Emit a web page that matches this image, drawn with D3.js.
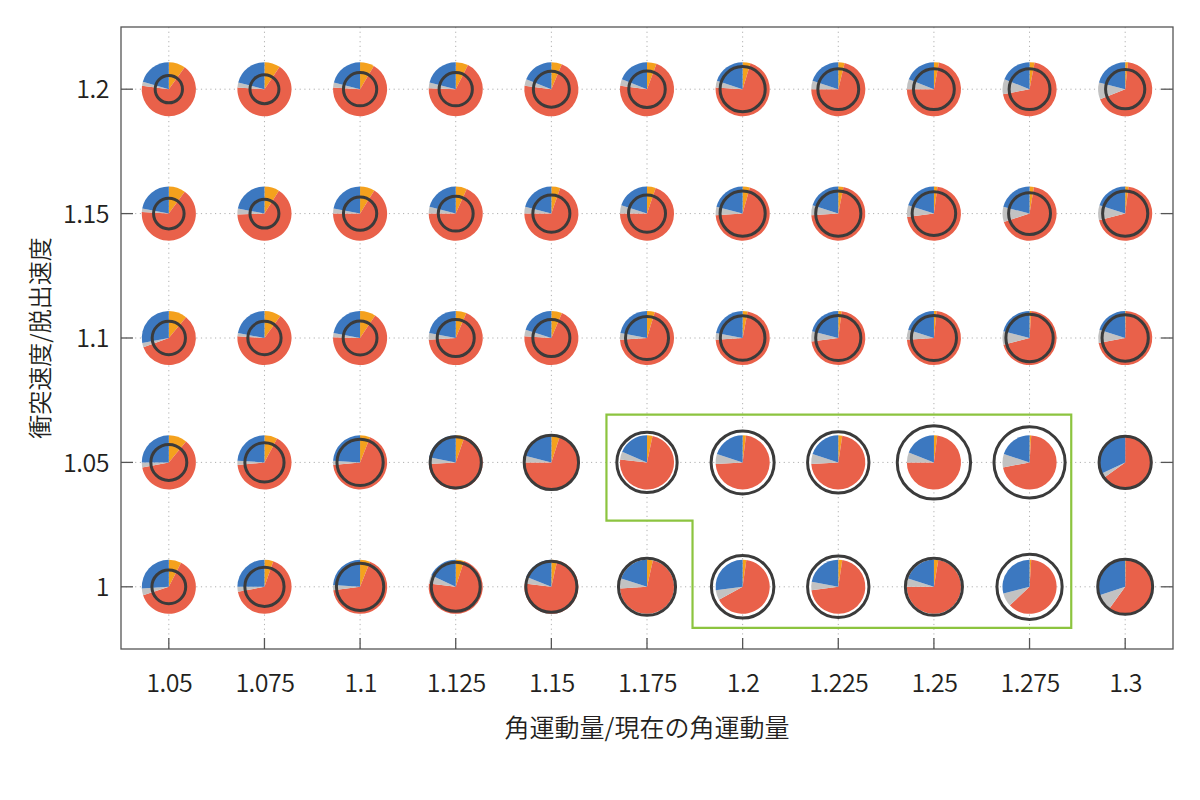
<!DOCTYPE html>
<html>
<head>
<meta charset="utf-8">
<script src="https://cdn.jsdelivr.net/npm/d3@7"></script>
<style>
  html, body { margin: 0; padding: 0; background: #fff; }
  svg { display: block; font-family: "Noto Sans CJK JP", "Noto Sans", sans-serif; }
</style>
</head>
<body>
<svg id="chart" width="1200" height="800"></svg>
<script>
// ---------- data ----------
const xValues = [1.05, 1.075, 1.1, 1.125, 1.15, 1.175, 1.2, 1.225, 1.25, 1.275, 1.3];
const yValues = [1.2, 1.15, 1.1, 1.05, 1];
const xTickLabels = ["1.05", "1.075", "1.1", "1.125", "1.15", "1.175", "1.2", "1.225", "1.25", "1.275", "1.3"];
const yTickLabels = ["1", "1.05", "1.1", "1.15", "1.2"];
const yTickValues = [1, 1.05, 1.1, 1.15, 1.2];

// slice shares (%) per row (rows follow yValues, columns follow xValues)
const orangeShare = [
  [10, 9.5, 8.5, 7.5, 6.3, 5.7, 4.7, 3.8, 3, 3, 1.7],
  [10, 9, 8.8, 6.7, 5.3, 5.2, 4.3, 3.1, 2.1, 2.6, 2],
  [11, 10, 9.4, 6.4, 6.4, 4.7, 3, 2, 1.6, 1, 0.5],
  [11, 7.7, 6, 5.3, 5, 3.3, 2, 2.4, 2, 1, 0],
  [7.5, 5.3, 6, 5, 3.5, 3.5, 2.2, 2.4, 2.6, 1, 0.5]
];
const redShare = [
  [67, 66.5, 67.5, 68, 70.7, 71.3, 71.3, 71.2, 72, 69, 67.3],
  [66, 65.5, 66.2, 68.3, 69.7, 69.8, 69.7, 70.9, 70.9, 67.4, 69],
  [58.5, 66, 66.1, 67.6, 69.6, 69.3, 71, 71, 72.4, 70, 71.5],
  [61, 65.8, 67.5, 68.7, 70, 73.4, 72, 71.6, 73, 71, 65],
  [62.5, 66.7, 67, 72, 73.5, 70.5, 64.8, 70.6, 72.4, 62, 59.5]
];
const grayShare = [
  [2.5, 3, 3, 3.5, 4, 4, 4, 5, 6, 9, 10],
  [2, 3.5, 3, 4, 4, 5, 5, 6, 7, 9, 9],
  [2.5, 2, 2.5, 4, 4, 4, 4, 6, 6, 8, 8],
  [3, 2.5, 2.5, 4, 4, 4.7, 6, 6, 6, 8, 3],
  [4, 3, 3, 5, 4, 6, 6, 5, 5, 8, 10]
];
const blueShare = [
  [20.5, 21, 21, 21, 19, 19, 20, 20, 19, 19, 21],
  [22, 22, 22, 21, 21, 20, 21, 20, 20, 21, 20],
  [28, 22, 22, 22, 20, 22, 22, 21, 20, 21, 20],
  [25, 24, 24, 22, 21, 18.6, 20, 20, 19, 20, 32],
  [26, 25, 24, 18, 19, 20, 27, 22, 20, 29, 30]
];
// ring size relative to the pie radius
const ringRatio = [
  [0.56, 0.59, 0.67, 0.67, 0.72, 0.73, 0.89, 0.81, 0.81, 0.81, 0.78],
  [0.62, 0.59, 0.67, 0.70, 0.74, 0.74, 0.89, 0.89, 0.86, 0.83, 0.89],
  [0.67, 0.67, 0.68, 0.74, 0.74, 0.85, 0.88, 0.89, 0.89, 0.93, 0.91],
  [0.72, 0.78, 0.91, 1.00, 1.06, 1.17, 1.22, 1.19, 1.41, 1.37, 1.02],
  [0.68, 0.78, 0.93, 0.96, 1.00, 1.11, 1.21, 1.19, 1.11, 1.26, 1.07]
];
// highlighted region outline (data coordinates)
const regionX = [1.1644, 1.2859, 1.2859, 1.1869, 1.1869, 1.1644];
const regionY = [1.0692, 1.0692, 0.9835, 0.9835, 1.0266, 1.0266];

const sliceNames = ["orange", "red", "gray", "blue"];
const sliceColors = { orange: "#f4a11d", red: "#e9614a", gray: "#c2c2c2", blue: "#3c78c0" };

const xTitle = "角運動量/現在の角運動量";
const yTitle = "衝突速度/脱出速度";

// ---------- layout ----------
const W = 1200, H = 800;
const margin = { top: 27, right: 27, bottom: 151, left: 121 };
const svg = d3.select("#chart");
const iw = W - margin.left - margin.right;
const ih = H - margin.top - margin.bottom;

const x = d3.scaleLinear().domain([1.0375, 1.3125]).range([margin.left, margin.left + iw]);
const y = d3.scaleLinear().domain([0.975, 1.225]).range([margin.top + ih, margin.top]);

const pieR = (x(1.075) - x(1.05)) * 0.283;
const ringScale = d3.scaleLinear().domain([0, 1]).range([0, pieR]);

// ---------- grid ----------
const grid = svg.append("g");
grid.selectAll("line.vx").data(xValues).join("line")
  .attr("x1", d => x(d)).attr("x2", d => x(d))
  .attr("y1", margin.top).attr("y2", margin.top + ih)
  .attr("stroke", "#b0b0b0").attr("stroke-width", 1).attr("stroke-dasharray", "1.2,3.5");
grid.selectAll("line.hy").data(yTickValues).join("line")
  .attr("y1", d => y(d)).attr("y2", d => y(d))
  .attr("x1", margin.left).attr("x2", margin.left + iw)
  .attr("stroke", "#b0b0b0").attr("stroke-width", 1).attr("stroke-dasharray", "1.2,3.5");

// ---------- pies ----------
const cells = [];
yValues.forEach((yv, ri) => {
  xValues.forEach((xv, ci) => {
    cells.push({
      xv, yv,
      shares: {
        orange: orangeShare[ri][ci], red: redShare[ri][ci],
        gray: grayShare[ri][ci], blue: blueShare[ri][ci]
      },
      ring: ringRatio[ri][ci]
    });
  });
});

const pie = d3.pie().sort(null).value(d => d.v);
const arc = d3.arc().innerRadius(0).outerRadius(pieR);

const cellG = svg.append("g").selectAll("g.cell").data(cells).join("g")
  .attr("transform", d => `translate(${x(d.xv)},${y(d.yv)})`);

cellG.selectAll("path").data(d => pie(sliceNames.map(n => ({ n, v: d.shares[n] })))).join("path")
  .attr("d", arc)
  .attr("fill", d => sliceColors[d.data.n]);

cellG.append("circle")
  .attr("r", d => ringScale(d.ring) - 1.5)
  .attr("fill", "none")
  .attr("stroke", "#3b3b3b")
  .attr("stroke-width", 3);

// ---------- highlighted region ----------
const regionPts = regionX.map((v, i) => [x(v), y(regionY[i])]);
svg.append("path")
  .attr("d", d3.line()(regionPts) + "Z")
  .attr("fill", "none").attr("stroke", "#8cc43f").attr("stroke-width", 2.2);

// ---------- frame & ticks ----------
svg.append("rect")
  .attr("x", margin.left).attr("y", margin.top).attr("width", iw).attr("height", ih)
  .attr("fill", "none").attr("stroke", "#555").attr("stroke-width", 1.3);

const axisBottom = d3.axisBottom(x).tickValues(xValues).tickFormat((d, i) => xTickLabels[i]).tickSize(0).tickPadding(0);
const axisLeft = d3.axisLeft(y).tickValues(yTickValues).tickFormat((d, i) => yTickLabels[i]).tickSize(0).tickPadding(0);

// inward tick marks
const tickG = svg.append("g").attr("stroke", "#555").attr("stroke-width", 1.3);
tickG.selectAll("line.b").data(xValues).join("line")
  .attr("x1", d => x(d)).attr("x2", d => x(d))
  .attr("y1", margin.top + ih).attr("y2", margin.top + ih - 11);
tickG.selectAll("line.l").data(yTickValues).join("line")
  .attr("y1", d => y(d)).attr("y2", d => y(d))
  .attr("x1", margin.left).attr("x2", margin.left + 12);
tickG.selectAll("line.r").data(yTickValues).join("line")
  .attr("y1", d => y(d)).attr("y2", d => y(d))
  .attr("x1", margin.left + iw).attr("x2", margin.left + iw - 12);

const gx = svg.append("g").attr("transform", `translate(0,${margin.top + ih})`).call(axisBottom);
gx.select(".domain").remove();
gx.selectAll("text")
  .attr("y", 43).attr("dy", 0)
  .attr("font-size", 25).attr("font-weight", 350).attr("fill", "#231f20")
  .attr("font-family", "'Noto Sans CJK JP', sans-serif")
  .attr("letter-spacing", "-0.5");

const gy = svg.append("g").attr("transform", `translate(${margin.left},0)`).call(axisLeft);
gy.select(".domain").remove();
gy.selectAll("text")
  .attr("x", -12).attr("dy", "0.35em")
  .attr("font-size", 25).attr("font-weight", 350).attr("fill", "#231f20")
  .attr("font-family", "'Noto Sans CJK JP', sans-serif")
  .attr("letter-spacing", "-0.5");

// ---------- titles ----------
svg.append("text")
  .attr("x", x(1.175)).attr("y", 737)
  .attr("text-anchor", "middle")
  .attr("font-size", 25).attr("font-weight", 350).attr("fill", "#231f20")
  .text(xTitle);

svg.append("text")
  .attr("transform", `translate(49,${y(1.1)}) rotate(-90)`)
  .attr("text-anchor", "middle")
  .attr("font-size", 24).attr("font-weight", 350).attr("fill", "#231f20")
  .text(yTitle);
</script>
</body>
</html>
